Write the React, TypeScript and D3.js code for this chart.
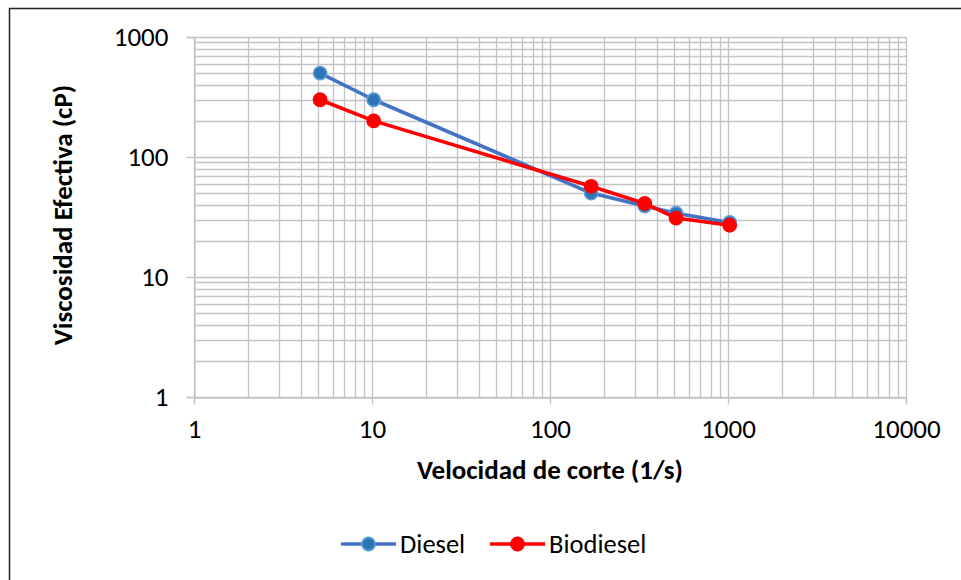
import React, { useEffect, useRef } from 'react';
import * as d3 from 'd3';

// Shear rates (1/s) and effective viscosity (cP)
const shearRates = [5.11, 10.22, 170.3, 340.6, 510.9, 1021.8];
const dieselValues = [500, 300, 50, 39, 34, 28.5];
const biodieselValues = [300, 200, 57, 41, 31, 27];
const xTicks = [1, 10, 100, 1000, 10000];
const yTicks = [1, 10, 100, 1000];

const width = 961;
const height = 580;
const margin = { top: 37, right: 55, bottom: 183, left: 194 };

const App = () => {
  const svgRef = useRef<SVGSVGElement>(null);

  useEffect(() => {
    const svg = d3.select(svgRef.current);
    svg.selectAll('*').remove();

    const x = d3.scaleLog().domain([1, 10000]).range([margin.left, width - margin.right]);
    const y = d3.scaleLog().domain([1, 1000]).range([height - margin.bottom, margin.top]);
    const font = "Carlito, 'Liberation Sans', Arial, sans-serif";
    const grid = '#c3c3c3';

    svg.append('rect').attr('width', width).attr('height', height).attr('fill', '#fff');
    // outer chart frame
    svg
      .append('rect')
      .attr('x', 9.5)
      .attr('y', 8.5)
      .attr('width', 1200)
      .attr('height', 1200)
      .attr('fill', 'none')
      .attr('stroke', '#222')
      .attr('stroke-width', 1.5);

    // minor + major grid values
    const xGrid: number[] = [];
    for (let p = 0; p < 4; p++) for (let k = 1; k <= 10; k++) xGrid.push(k * 10 ** p);
    const yGrid: number[] = [];
    for (let p = 0; p < 3; p++) for (let k = 1; k <= 10; k++) yGrid.push(k * 10 ** p);

    const [y0, y1] = y.range();
    const [x0, x1] = x.range();

    svg
      .append('g')
      .selectAll('line')
      .data(Array.from(new Set(xGrid)))
      .join('line')
      .attr('x1', (d) => Math.round(x(d)) + 0.5)
      .attr('x2', (d) => Math.round(x(d)) + 0.5)
      .attr('y1', y1)
      .attr('y2', y0)
      .attr('stroke', grid)
      .attr('stroke-width', 1.3);

    svg
      .append('g')
      .selectAll('line')
      .data(Array.from(new Set(yGrid)))
      .join('line')
      .attr('x1', x0)
      .attr('x2', x1)
      .attr('y1', (d) => Math.round(y(d)) + 0.5)
      .attr('y2', (d) => Math.round(y(d)) + 0.5)
      .attr('stroke', grid)
      .attr('stroke-width', 1.3);

    // X axis
    const xAxis = svg
      .append('g')
      .attr('transform', `translate(0, ${Math.round(y0) + 0.5})`)
      .call(d3.axisBottom(x).tickValues(xTicks).tickFormat(d3.format('d')).tickSize(7).tickPadding(14));
    xAxis.selectAll('.domain').attr('stroke', grid).attr('stroke-width', 1.3);
    xAxis.selectAll('line').attr('stroke', grid).attr('stroke-width', 1.3);
    xAxis
      .selectAll('text')
      .attr('fill', '#000')
      .style('font-family', font)
      .style('font-size', '27px');

    // Y axis
    const yAxis = svg
      .append('g')
      .attr('transform', `translate(${Math.round(x0) + 0.5}, 0)`)
      .call(d3.axisLeft(y).tickValues(yTicks).tickFormat(d3.format('d')).tickSize(8).tickPadding(18));
    yAxis.selectAll('.domain').attr('stroke', grid).attr('stroke-width', 1.3);
    yAxis.selectAll('line').attr('stroke', grid).attr('stroke-width', 1.3);
    yAxis
      .selectAll('text')
      .attr('fill', '#000')
      .style('font-family', font)
      .style('font-size', '27px');

    // axis titles
    svg
      .append('text')
      .attr('x', (x0 + x1) / 2)
      .attr('y', 479)
      .attr('text-anchor', 'middle')
      .style('font-family', font)
      .style('font-size', '27px')
      .style('font-weight', 'bold')
      .text('Velocidad de corte (1/s)');

    svg
      .append('text')
      .attr('transform', `translate(72, 215) rotate(-90)`)
      .attr('text-anchor', 'middle')
      .style('font-family', font)
      .style('font-size', '27px')
      .style('font-weight', 'bold')
      .text('Viscosidad Efectiva (cP)');

    const series = [
      { name: 'Diesel', values: dieselValues, line: '#4472C4', fill: '#2E75B6', stroke: '#5B9BD5' },
      { name: 'Biodiesel', values: biodieselValues, line: '#FF0000', fill: '#FF0000', stroke: '#FF0000' },
    ];

    const lineGen = d3
      .line<number>()
      .x((_, i) => x(shearRates[i]))
      .y((d) => y(d));

    series.forEach((s) => {
      svg
        .append('path')
        .attr('d', lineGen(s.values))
        .attr('fill', 'none')
        .attr('stroke', s.line)
        .attr('stroke-width', 3.6)
        .attr('stroke-linejoin', 'round');
      svg
        .append('g')
        .selectAll('circle')
        .data(s.values)
        .join('circle')
        .attr('cx', (_, i) => x(shearRates[i]))
        .attr('cy', (d) => y(d))
        .attr('r', 6.6)
        .attr('fill', s.fill)
        .attr('stroke', s.stroke)
        .attr('stroke-width', 1.6);
    });

    // legend
    const legendPos = [341, 490];
    series.forEach((s, i) => {
      const g = svg.append('g').attr('transform', `translate(${legendPos[i]}, 544)`);
      g.append('line')
        .attr('x1', 0)
        .attr('x2', 55)
        .attr('stroke', s.line)
        .attr('stroke-width', 3.6);
      g.append('circle')
        .attr('cx', 27.5)
        .attr('r', 6.6)
        .attr('fill', s.fill)
        .attr('stroke', s.stroke)
        .attr('stroke-width', 1.6);
      g.append('text')
        .attr('x', 59)
        .attr('y', 8.5)
        .style('font-family', font)
        .style('font-size', '26.5px')
        .text(s.name);
    });
  }, []);

  return (
    <div style={{ position: 'absolute', left: 0, top: 0 }}>
      <svg ref={svgRef} width={width} height={height} style={{ display: 'block' }}></svg>
    </div>
  );
};

export default App;
